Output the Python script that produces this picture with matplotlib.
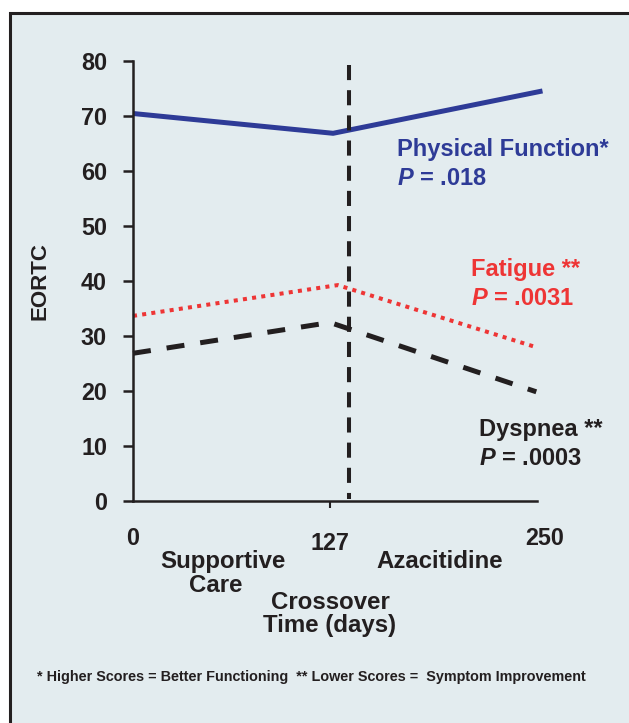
import matplotlib
matplotlib.use("Agg")
import matplotlib.pyplot as plt
from matplotlib.patches import Rectangle

# data (days, EORTC score)
days_pf = [0, 129, 264]
phys_function = [70.4, 66.8, 74.5]
days_fat = [0, 132, 260]
fatigue = [33.6, 39.2, 27.9]
days_dys = [0, 127, 260]
dyspnea = [26.8, 32.4, 19.8]
crossover_day = 139
crossover_top = 79.2
yticks = [0, 10, 20, 30, 40, 50, 60, 70, 80]

BG = "#e3ecef"
BLUE = "#2e3b97"
RED = "#ee3535"
INK = "#231f20"

plt.rcParams["font.family"] = ["Liberation Sans", "DejaVu Sans"]
plt.rcParams["font.weight"] = "bold"
plt.rcParams["axes.labelweight"] = "bold"
plt.rcParams["mathtext.fontset"] = "custom"
plt.rcParams["mathtext.it"] = "Liberation Sans:italic:bold"
plt.rcParams["mathtext.rm"] = "Liberation Sans:bold"

W, H = 629, 723
fig = plt.figure(figsize=(W / 100, H / 100), dpi=100, facecolor="white")

def fx(px):
    return px / W

def fy(py):
    return 1 - py / H

# panel background with border
fig.patches.append(Rectangle((fx(10), -0.01), 1.02, fy(13) + 0.01, transform=fig.transFigure,
                             facecolor=BG, edgecolor=INK, linewidth=2.2, zorder=-10))

ax = fig.add_axes([fx(133), fy(500.7), (551.8 - 133) / W, 440 / H])
ax.set_facecolor("none")
ax.set_xlim(0, 270)
ax.set_ylim(0, 80)

for s in ["top", "right"]:
    ax.spines[s].set_visible(False)
for s in ["left", "bottom"]:
    ax.spines[s].set_linewidth(1.8)
    ax.spines[s].set_color(INK)
ax.spines["left"].set_bounds(0, 80)
ax.spines["bottom"].set_bounds(0, 260.5)

ax.set_yticks(yticks)
ax.set_yticklabels([str(v) for v in yticks])
ax.tick_params(axis="y", length=7.2, width=1.8, color=INK, pad=11.5, labelsize=16.8, labelcolor=INK)

ax.set_xticks([0, 265.6])
ax.set_xticklabels(["0", "250"])
ax.set_xticks([127], minor=True)
ax.set_xticklabels(["127"], minor=True)
ax.tick_params(axis="x", which="major", length=0, pad=19, labelsize=16.8, labelcolor=INK)
ax.tick_params(axis="x", which="minor", length=5, width=1.5, color=INK, pad=17.5, labelsize=16.8, labelcolor=INK)

ax.set_ylabel("EORTC", fontsize=16, color=INK, labelpad=22)

ax.plot(days_pf, phys_function, color=BLUE, lw=3.6, solid_capstyle="butt", clip_on=False)
ax.plot(days_fat, fatigue, color=RED, lw=2.9, dashes=(1, 1.3), dash_capstyle="butt", clip_on=False)
ax.plot(days_dys, dyspnea, color=INK, lw=3.6, dashes=(3.6, 3.2), dash_capstyle="butt", clip_on=False)
ax.plot([crossover_day, crossover_day], [crossover_top, 0.3], color=INK, lw=2.9,
        dashes=(3.75, 2.5), dash_capstyle="butt", clip_on=False)

ann = 17
ax.text(170.2, 62.7, "Physical Function*", color=BLUE, fontsize=ann, va="baseline", clip_on=False)
ax.text(170.2, 57.4, "$P$ = .018", color=BLUE, fontsize=ann, va="baseline", clip_on=False)
ax.text(217.7, 40.8, "Fatigue **", color=RED, fontsize=ann, va="baseline", clip_on=False)
ax.text(217.7, 35.6, "$P$ = .0031", color=RED, fontsize=ann, va="baseline", clip_on=False)
ax.text(223.3, 11.8, "Dyspnea **", color=INK, fontsize=ann, va="baseline", clip_on=False)
ax.text(223.3, 6.5, "$P$ = .0003", color=INK, fontsize=ann, va="baseline", clip_on=False)

lab = 17.3
fig.text(fx(222.5), fy(568), "Supportive", ha="center", va="baseline", fontsize=lab, color=INK)
fig.text(fx(216), fy(592), "Care", ha="center", va="baseline", fontsize=lab, color=INK)
fig.text(fx(440), fy(568), "Azacitidine", ha="center", va="baseline", fontsize=lab, color=INK)
fig.text(fx(330), fy(609), "Crossover", ha="center", va="baseline", fontsize=lab, color=INK)
fig.text(fx(330), fy(632), "Time (days)", ha="center", va="baseline", fontsize=lab, color=INK)

fig.text(fx(311.5), fy(677), "* Higher Scores = Better Functioning  ** Lower Scores =  Symptom Improvement",
         ha="center", va="center", fontsize=10.4, color=INK,
         family=["Liberation Sans Narrow", "Liberation Sans"])

fig.savefig("out.png", dpi=100, facecolor="white")
